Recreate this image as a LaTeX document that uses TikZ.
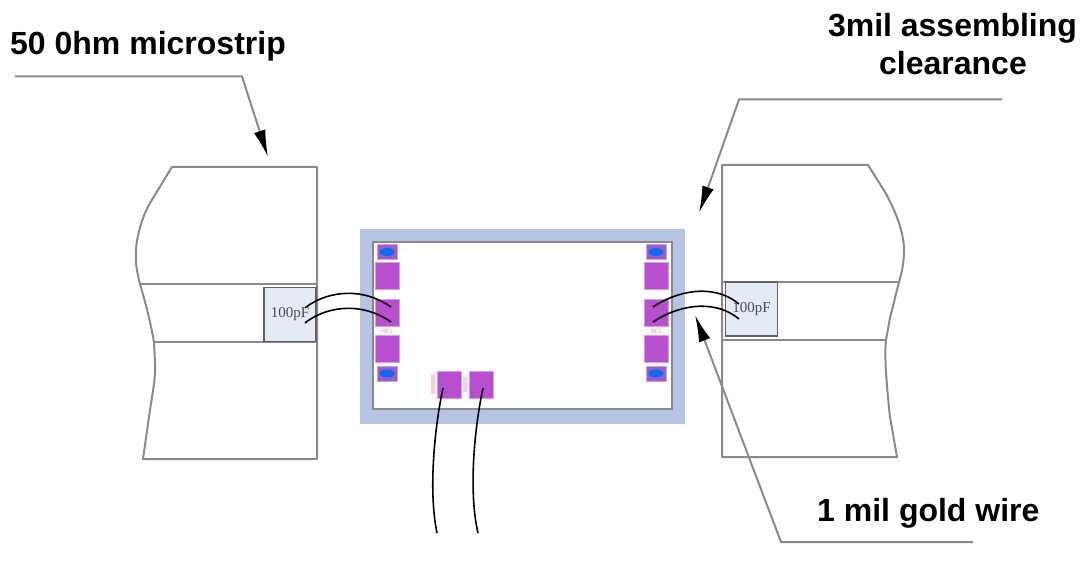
\documentclass[tikz,border=0pt]{standalone}
\usepackage{fontspec}
\setmainfont{Liberation Sans}
\newfontfamily\capfont{Liberation Serif}
\usetikzlibrary{arrows.meta,shapes.geometric}
\definecolor{linegray}{HTML}{8A8A8A}
\definecolor{chipblue}{HTML}{B6C5E3}
\definecolor{capfill}{HTML}{E4EAF6}
\definecolor{padpurple}{HTML}{B74FCE}
\definecolor{smallpurple}{HTML}{9F5CC8}
\definecolor{padblue}{HTML}{0B6CF2}
\definecolor{pinklabel}{HTML}{F48CD0}
\tikzset{
  x=1pt,y=-1pt,
  outline/.style={draw=linegray,line width=2pt,line join=round},
  leader/.style={draw=linegray,line width=2pt,-{Latex[length=27pt,width=12pt,black]}},
  goldwire/.style={draw=black,line width=1.6pt},
  capbox/.style={draw=linegray!70!black,line width=1.4pt,fill=capfill,minimum width=52pt,minimum height=54pt,inner sep=0pt,font=\capfont\fontsize{15}{16}\selectfont,text=black!70},
  bigpad/.style={fill=padpurple,draw=padpurple!55!white,line width=.8pt,minimum width=24pt,minimum height=27pt,inner sep=0pt},
  smallpad/.style={fill=smallpurple,draw=smallpurple!55!white,line width=.8pt,minimum width=20pt,minimum height=15pt,inner sep=0pt},
  bluespot/.style={fill=padblue,draw=none,ellipse,minimum width=15pt,minimum height=8pt,inner sep=0pt},
  title/.style={font=\bfseries\fontsize{32}{36}\selectfont,text=black,inner sep=0pt,align=center},
  pinktext/.style={font=\fontsize{6}{6}\selectfont,text=pinklabel,inner sep=0pt},
  pinksmudge/.style={fill=pinklabel!45,draw=none},
}
\begin{document}
\begin{tikzpicture}
\useasboundingbox (0,0) rectangle (1082,561);
% left block
\draw[outline] (172,167) -- (317,167) -- (317,459) -- (143,459)
  -- (150,410) .. controls (153,390) and (156,375) .. (155,363) -- (154,342)
  .. controls (151,325) and (146,304) .. (140,284)
  .. controls (137,272) and (135,262) .. (136,250)
  .. controls (137,235) and (142,217) .. (150,203) -- cycle;
\draw[outline] (140,284) -- (317,284);
\draw[outline] (154,342) -- (317,342);
\node[capbox] (capL) at (290,314.5) {100pF};
% right block
\draw[outline] (722,165) -- (868,165) -- (885,192)
  .. controls (895,210) and (904,232) .. (904,250)
  .. controls (904,262) and (902,272) .. (899,282)
  -- (890,318) -- (886,340)
  .. controls (884,355) and (887,390) .. (890,417)
  -- (897,457) -- (722,457) -- cycle;
\draw[outline] (722,282) -- (899,282);
\draw[outline] (722,340) -- (886,340);
\node[capbox] (capR) at (751.5,309) {100pF};
% chip
\fill[chipblue] (360,229) rectangle (685,424);
\draw[fill=white,draw=linegray,line width=2pt] (372.5,242) rectangle (672,408.5);
% left pads
\node[smallpad] (lt) at (387,252) {};
\node[bluespot] at (lt) {};
\node[bigpad] (l1) at (387.5,276) {};
\node[bigpad] (l2) at (387.5,312.5) {};
\node[bigpad] (l3) at (387.5,348.5) {};
\node[smallpad] (lb) at (387,373.5) {};
\node[bluespot] at (lb) {};
\node[pinktext] (rf1) at (387,331) {RF1};
% right pads
\node[smallpad] (rt) at (656,252) {};
\node[bluespot] at (rt) {};
\node[bigpad] (r1) at (656,276) {};
\node[bigpad] (r2) at (656,312.5) {};
\node[bigpad] (r3) at (656,348.5) {};
\node[smallpad] (rb) at (656,373.5) {};
\node[bluespot] at (rb) {};
\node[pinktext] (rf2) at (656,331) {RF2};
% bottom pads
\node[bigpad] (b1) at (449,384.5) {};
\node[bigpad] (b2) at (481,384.5) {};
\fill[pinksmudge] (431,374) rectangle (435,394);
\fill[pinksmudge] (463,377) rectangle (467,392);
% bonding wires
\coordinate (wl1a) at (305,308); \coordinate (wl1b) at (391,307);
\coordinate (wl2a) at (305,323); \coordinate (wl2b) at (391,322);
\coordinate (wr1a) at (653,307); \coordinate (wr1b) at (739,304);
\coordinate (wr2a) at (653,322); \coordinate (wr2b) at (739,319);
\draw[goldwire] (wl1a) .. controls (322,294) and (358,284) .. (wl1b);
\draw[goldwire] (wl2a) .. controls (322,309) and (358,299) .. (wl2b);
\draw[goldwire] (wr1a) .. controls (675,292) and (712,282) .. (wr1b);
\draw[goldwire] (wr2a) .. controls (675,307) and (712,297) .. (wr2b);
\coordinate (wb1) at (443,388); \coordinate (wb1e) at (437,533);
\coordinate (wb2) at (483,388); \coordinate (wb2e) at (478,533);
\draw[goldwire] (wb1) .. controls (435,425) and (428,490) .. (wb1e);
\draw[goldwire] (wb2) .. controls (475,425) and (468,490) .. (wb2e);
% leaders
\coordinate (a1s) at (15,76.5); \coordinate (a1k) at (242,76.5); \coordinate (a1e) at (268,157);
\coordinate (a2s) at (1002,99.5); \coordinate (a2k) at (739,99.5); \coordinate (a2e) at (699,213);
\coordinate (a3s) at (973,542); \coordinate (a3k) at (781,542); \coordinate (a3e) at (695,315);
\draw[leader] (a1s) -- (a1k) -- (a1e);
\draw[leader] (a2s) -- (a2k) -- (a2e);
\draw[leader] (a3s) -- (a3k) -- (a3e);
% labels
\node[title,anchor=base west] (t1) at (10,55) {50 0hm microstrip};
\node[title,anchor=base] (t2) at (952.5,37) {3mil assembling};
\node[title,anchor=base] (t3) at (953,75) {clearance};
\node[title,anchor=base west] (t4) at (817,521) {1 mil gold wire};
\end{tikzpicture}
\end{document}
